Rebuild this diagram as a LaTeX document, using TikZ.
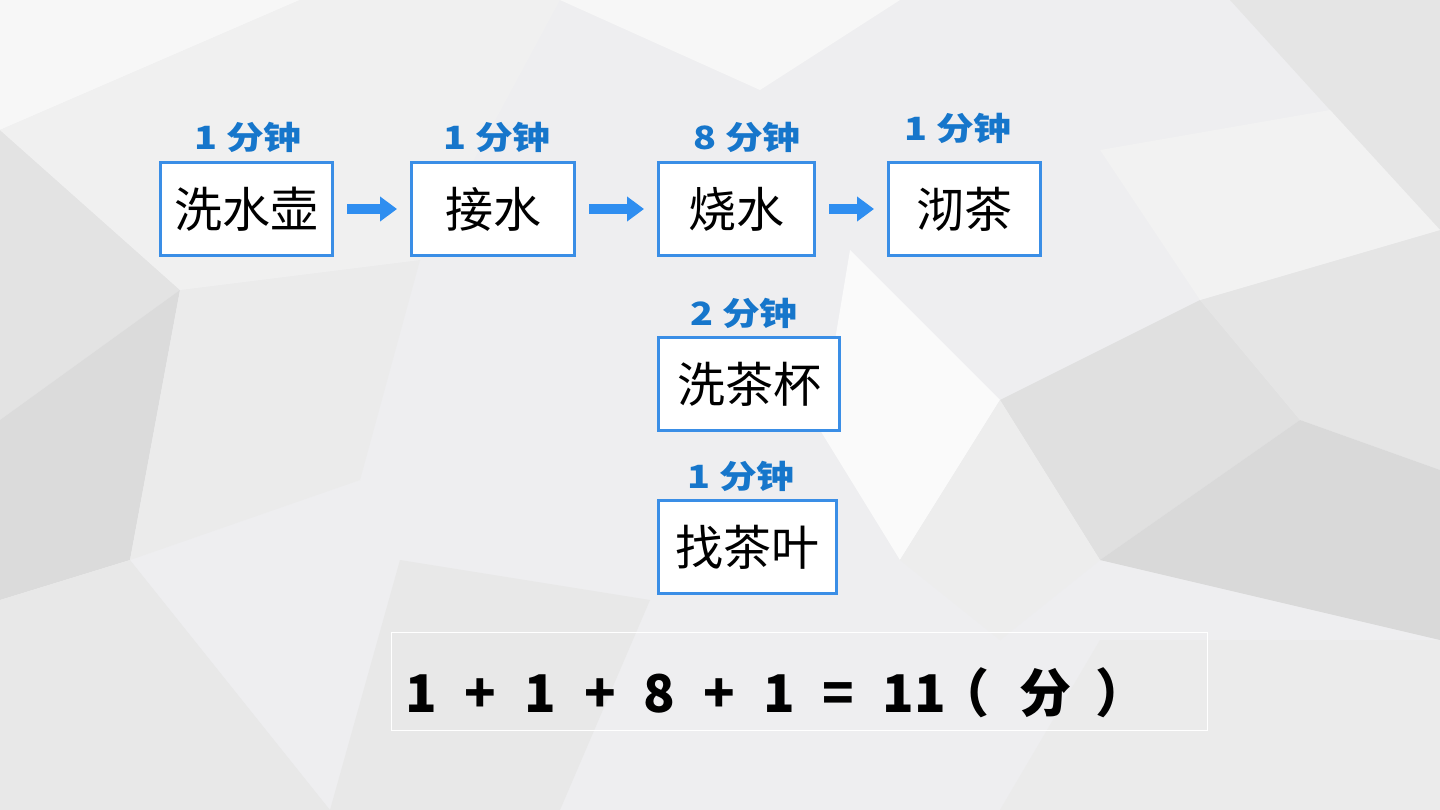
\documentclass[tikz,border=0pt]{standalone}
\usepackage{fontspec}
\setmainfont{Noto Sans CJK SC}
\newfontfamily\labfont[FakeStretch=1.18]{Noto Sans CJK SC}
\usetikzlibrary{arrows.meta}
\definecolor{bgbase}{HTML}{EEEEF0}
\definecolor{boxblue}{HTML}{3A8EE6}
\definecolor{labblue}{HTML}{1676CB}
\definecolor{arrblue}{HTML}{2F8EF0}
\tikzset{
  task/.style={draw=boxblue, line width=3pt, fill=white, minimum height=93pt,
    inner sep=0pt, font=\fontsize{48}{52}\selectfont, text=black},
  lab/.style={text=labblue, inner sep=0pt, font=\labfont\bfseries\fontsize{32}{35}\selectfont},
  flow/.style={draw=arrblue, line width=10pt, shorten <=13pt, shorten >=13pt,
    -{Triangle[width=24pt,length=17pt]}},
  poly/.style={draw=none}
}
\begin{document}
\begin{tikzpicture}[x=1pt,y=-1pt]
\useasboundingbox (0,0) rectangle (1440,810);
\fill[bgbase] (0,0) rectangle (1440,810);
% low-poly background
\fill[poly,fill=black!3] (0,0) -- (300,0) -- (0,130) -- cycle;
\fill[poly,fill=black!11] (0,130) -- (180,290) -- (0,420) -- cycle;
\fill[poly,fill=black!14] (0,420) -- (180,290) -- (130,560) -- (0,600) -- cycle;
\fill[poly,fill=black!9] (0,600) -- (130,560) -- (330,810) -- (0,810) -- cycle;
\fill[poly,fill=black!8] (180,290) -- (420,260) -- (360,480) -- (130,560) -- cycle;
\fill[poly,fill=black!6] (300,0) -- (560,0) -- (420,260) -- (180,290) -- (0,130) -- cycle;
\fill[poly,fill=black!12] (1000,400) -- (1200,300) -- (1300,420) -- (1100,560) -- cycle;
\fill[poly,fill=black!10] (1200,300) -- (1440,230) -- (1440,470) -- (1300,420) -- cycle;
\fill[poly,fill=black!15] (1100,560) -- (1300,420) -- (1440,470) -- (1440,640) -- cycle;
\fill[poly,fill=black!10] (1230,0) -- (1440,0) -- (1440,230) -- (1330,110) -- cycle;
\fill[poly,fill=black!8] (1100,640) -- (1440,640) -- (1440,810) -- (1000,810) -- cycle;
\fill[poly,fill=black!3] (560,0) -- (900,0) -- (760,90) -- cycle;
\fill[poly,fill=black!9] (400,560) -- (650,600) -- (560,810) -- (330,810) -- cycle;
\fill[poly,fill=black!2] (850,250) -- (1000,400) -- (900,560) -- (820,430) -- cycle;
\fill[poly,fill=black!7] (1000,400) -- (1100,560) -- (1000,640) -- (900,560) -- cycle;
\fill[poly,fill=black!5] (1330,110) -- (1440,230) -- (1200,300) -- (1100,150) -- cycle;

% task boxes
\node[task, minimum width=172pt] (a) at (246.5,209) {洗水壶};
\node[task, minimum width=163pt] (b) at (493,209) {接水};
\node[task, minimum width=156pt] (c) at (736.5,209) {烧水};
\node[task, minimum width=152pt] (d) at (964.5,209) {沏茶};
\node[task, minimum width=181pt] (e) at (749,384) {洗茶杯};
\node[task, minimum width=178pt] (f) at (747.5,547) {找茶叶};

% time labels
\node[lab] (la) at (248,137) {1 分钟};
\node[lab] (lb) at (497,137) {1 分钟};
\node[lab] (lc) at (747,137) {8 分钟};
\node[lab] (ld) at (958,128) {1 分钟};
\node[lab] (le) at (744,313) {2 分钟};
\node[lab] (lf) at (741,476) {1 分钟};

% arrows
\draw[flow] (a.east) -- (b.west);
\draw[flow] (b.east) -- (c.west);
\draw[flow] (c.east) -- (d.west);

% equation
\node[draw=white, line width=1pt, minimum width=816pt, minimum height=98pt, inner sep=0pt] (eqbox) at (799.5,681.5) {};
\node[anchor=base west, inner sep=0pt, font=\bfseries\fontsize{52}{56}\selectfont] (eq) at (405,712)
  {\spaceskip=28pt 1 + 1 + 8 + 1 = 11\hspace{-8pt}（\hspace{30pt}分\hspace{24pt}）};
\end{tikzpicture}
\end{document}
